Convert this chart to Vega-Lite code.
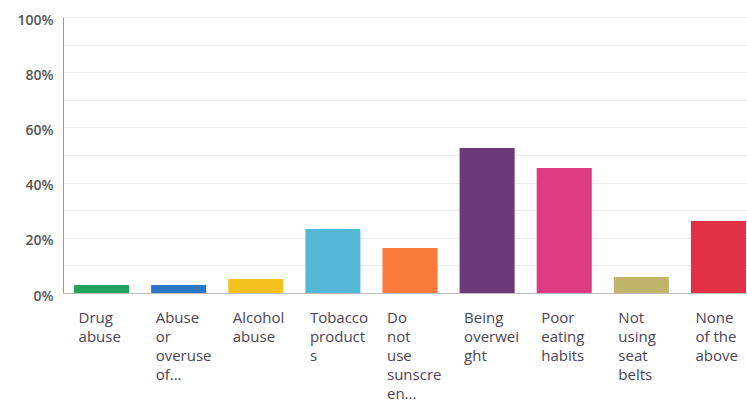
{
  "$schema": "https://vega.github.io/schema/vega-lite/v6.json",
  "autosize": "none",
  "padding": {"left": 63, "top": 17, "right": 0, "bottom": 114},
  "width": 694,
  "height": 276,
  "background": "white",
  "data": {
    "values": [
      {"answer": "Drug\nabuse", "pct": 2.9, "color": "#21a35b"},
      {"answer": "Abuse\nor\noveruse\nof...", "pct": 2.9, "color": "#2d77c3"},
      {"answer": "Alcohol\nabuse", "pct": 5.1, "color": "#f5c11e"},
      {"answer": "Tobacco\nproduct\ns", "pct": 23.2, "color": "#55b9d5"},
      {"answer": "Do\nnot\nuse\nsunscre\nen...", "pct": 16.3, "color": "#f97a3b"},
      {"answer": "Being\noverwei\nght", "pct": 52.5, "color": "#6d3a79"},
      {"answer": "Poor\neating\nhabits", "pct": 45.3, "color": "#dd3c80"},
      {"answer": "Not\nusing\nseat\nbelts", "pct": 5.8, "color": "#bfb46a"},
      {"answer": "None\nof the\nabove", "pct": 26.1, "color": "#e03145"}
    ]
  },
  "config": {
    "view": {"stroke": null},
    "font": "Open Sans"
  },
  "mark": {"type": "bar"},
  "encoding": {
    "x": {
      "field": "answer",
      "type": "nominal",
      "sort": null,
      "scale": {"paddingInner": 0.286, "paddingOuter": 0.143},
      "axis": {
        "title": null,
        "labelAngle": 0,
        "labelAlign": "left",
        "labelBaseline": "top",
        "labelOffset": -23,
        "labelPadding": 17,
        "labelExpr": "split(datum.label, '\\n')",
        "labelLineHeight": 19,
        "labelFontSize": 15,
        "labelColor": "#4a4553",
        "labelLimit": 0,
        "ticks": false,
        "domainColor": "#bbbbbb",
        "grid": false
      }
    },
    "y": {
      "field": "pct",
      "type": "quantitative",
      "scale": {"domain": [0, 100], "nice": false},
      "axis": {
        "title": null,
        "values": [0, 10, 20, 30, 40, 50, 60, 70, 80, 90, 100],
        "labelExpr": "datum.value % 20 == 0 ? datum.value + '%' : ''",
        "labelFontSize": 14,
        "labelFontWeight": 600,
        "labelColor": "#555555",
        "labelPadding": 10,
        "labelOffset": 3,
        "ticks": false,
        "domainColor": "#999999",
        "gridColor": "#ececec",
        "labelBaseline": "middle"
      }
    },
    "color": {"field": "color", "type": "nominal", "scale": null, "legend": null}
  }
}
